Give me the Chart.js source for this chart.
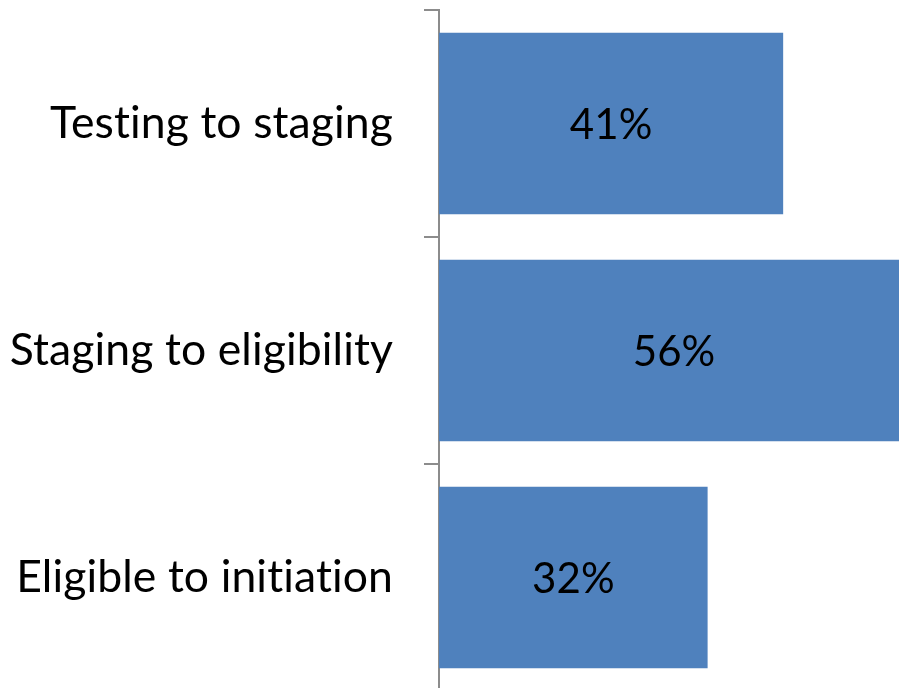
<!DOCTYPE html>
<html>
<head>
<meta charset="utf-8">
<script src="https://cdn.jsdelivr.net/npm/chart.js@4/dist/chart.umd.min.js"></script>
<style>
    html, body { margin: 0; padding: 0; background: #fff; overflow: hidden; }
    #wrap { position: relative; width: 899px; height: 691px; }
</style>
</head>
<body>
<div id="wrap"><canvas id="stepsChart"></canvas></div>
<script>
const categories = ['Testing to staging', 'Staging to eligibility', 'Eligible to initiation'];
const percentages = [41, 56, 32];

const fontFamily = "Lato, 'Open Sans', sans-serif";
const labelSize = 44.5;
const valueSize = 42;

// a tiny letter spacing keeps Lato from joining "ti" into a ligature
const noLigatures = {
    id: 'noLigatures',
    beforeDraw(chart) {
        chart.ctx.letterSpacing = '0.1px';
    }
};

// writes "41%" etc. in the middle of each bar
const barLabels = {
    id: 'barLabels',
    afterDatasetsDraw(chart) {
        const ctx = chart.ctx;
        const xScale = chart.scales.x;
        const meta = chart.getDatasetMeta(0);
        ctx.save();
        ctx.font = `${valueSize}px ${fontFamily}`;
        ctx.fillStyle = '#000';
        ctx.textAlign = 'center';
        ctx.textBaseline = 'middle';
        meta.data.forEach((bar, i) => {
            const v = percentages[i];
            const x = (xScale.getPixelForValue(0) + xScale.getPixelForValue(v)) / 2;
            ctx.fillText(v + '%', x, bar.y + 2);
        });
        ctx.restore();
    }
};

const ctx = document.getElementById('stepsChart').getContext('2d');
const chart = new Chart(ctx, {
    type: 'bar',
    data: {
        labels: categories,
        datasets: [{
            data: percentages,
            backgroundColor: '#4f81bd',
            borderWidth: 0,
            barPercentage: 1,
            categoryPercentage: 0.8
        }]
    },
    options: {
        indexAxis: 'y',
        responsive: true,
        maintainAspectRatio: false,
        animation: false,
        layout: { padding: { top: 10, right: 0, bottom: 0, left: 0 } },
        plugins: {
            legend: { display: false },
            tooltip: { enabled: false }
        },
        scales: {
            x: {
                display: false,
                min: 0,
                max: 54.8
            },
            y: {
                offset: true,
                border: { display: true, color: '#8c8c8c', width: 2 },
                grid: {
                    offset: true,
                    drawOnChartArea: false,
                    drawTicks: true,
                    tickLength: 15,
                    color: '#8c8c8c',
                    lineWidth: 2
                },
                ticks: {
                    color: '#000',
                    padding: 31,
                    font: { family: fontFamily, size: labelSize }
                },
                afterFit(scale) {
                    scale.width = 439;
                    scale.paddingTop = 0;
                    scale.paddingBottom = 0;
                }
            }
        }
    },
    plugins: [noLigatures, barLabels]
});
</script>
</body>
</html>
